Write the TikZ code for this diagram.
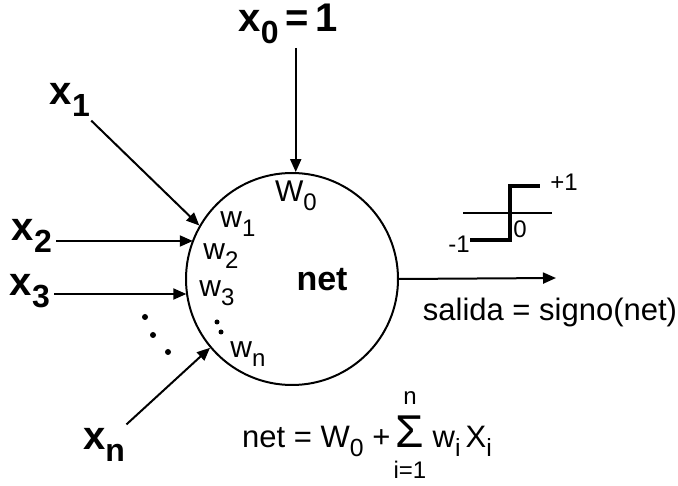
\documentclass[tikz,border=0pt]{standalone}
\usepackage{fontspec,amsmath}
\setmainfont{Liberation Sans}
\usetikzlibrary{arrows.meta,positioning,calc}
\newcommand{\lsub}[1]{\raisebox{-0.55ex}{\scalebox{0.8}{#1}}}
\tikzset{
  inlbl/.style={font=\fontsize{40}{42}\selectfont\bfseries,inner sep=4pt},
  wlbl/.style={font=\fontsize{30}{32}\selectfont,inner sep=0pt},
  txtlbl/.style={font=\fontsize{31}{34}\selectfont,inner sep=0pt},
  smlbl/.style={font=\fontsize{24}{26}\selectfont,inner sep=0pt},
  neuronblk/.style={draw,circle,line width=2pt,minimum size=212pt,inner sep=0pt},
  arr/.style={-{Triangle[length=13pt,width=11pt]},line width=2pt},
  dotmark/.style={circle,fill,inner sep=0pt,minimum size=6pt},
  stepln/.style={line width=4.5pt}
}

\begin{document}
\begin{tikzpicture}[x=1pt,y=-1pt]
  \useasboundingbox (0,0) rectangle (678,486);

  % neuron
  \node[neuronblk] (neuron) at (292,279) {};
  \node[font=\fontsize{34}{36}\selectfont\bfseries,inner sep=0pt] (net) at (322,280) {net};

  % inputs
  \node[inlbl] (x0) at (288,24) {x\lsub{0}\,=\,1};
  \node[inlbl] (x1) at (70,100) {x\lsub{1}};
  \node[inlbl] (x2) at (32,236) {x\lsub{2}};
  \node[inlbl] (x3) at (30,291) {x\lsub{3}};
  \node[inlbl] (xn) at (104,445) {x\lsub{n}};

  \draw[arr] (x0.south -| neuron.88) -- (neuron.88);
  \draw[arr] (x1) -- (neuron.150.5);
  \draw[arr] (x2.east |- 0,241) -- (neuron.158 |- 0,241);
  \draw[arr] (x3.east |- 0,294) -- (neuron.189 |- 0,294);
  \draw[arr] (xn) -- (neuron.220);

  \node[dotmark] (d1) at (145,317) {};
  \node[dotmark] (d2) at (153,335) {};
  \node[dotmark] (d3) at (168,352) {};

  % weights
  \node[wlbl] (w0) at (296,196) {W\lsub{0}};
  \node[wlbl] (w1) at (238,224) {w\lsub{1}};
  \node[wlbl] (w2) at (221,256) {w\lsub{2}};
  \node[wlbl] (w3) at (217,293) {w\lsub{3}};
  \node[dotmark,minimum size=5pt] (wd1) at (217,322) {};
  \node[dotmark,minimum size=5pt] (wd2) at (221,332) {};
  \node[wlbl] (wn) at (248,354) {w\lsub{n}};

  % output
  \coordinate (outend) at (556,278);
  \draw[arr] (neuron.east) -- (outend);
  \node[txtlbl] (salida) at (550,312) {salida = signo(net)};

  % sign function
  \draw[line width=1.5pt] (463,213) -- (552,213);
  \draw[stepln] (470,240) -- (510,240) -- (510,186) -- (540,186);
  \node[smlbl] (mone) at (459,244) {-1};
  \node[smlbl] (pone) at (564,182) {+1};
  \node[smlbl] (zero) at (520,229) {0};

  % formula
  \node[txtlbl,font=\fontsize{46}{48}\selectfont] (sigma) at (410,432) {Σ};
  \node[smlbl] (supn) at (410,398) {n};
  \node[smlbl] (subi) at (410,470) {i=1};
  \node[txtlbl,anchor=base east] (lhs) at ([xshift=-5pt]sigma.base west) {net = W\lsub{0} +};
  \node[txtlbl,anchor=base west] (rhs) at ([xshift=8pt]sigma.base east) {w\lsub{i}\,X\lsub{i}};
\end{tikzpicture}
\end{document}
